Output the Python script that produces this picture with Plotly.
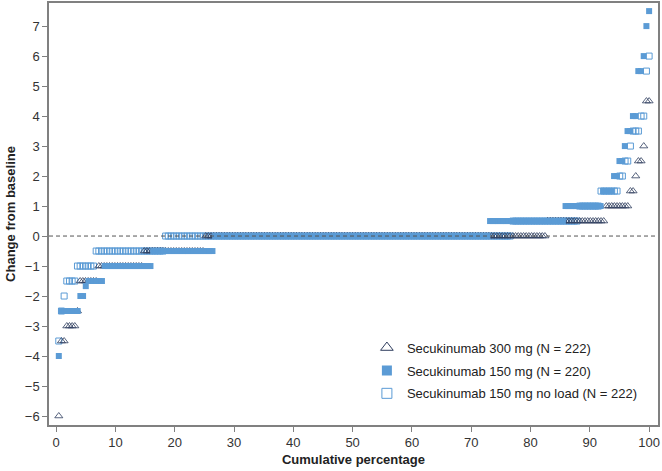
import plotly.graph_objects as go

# Secukinumab 300 mg (N = 222): change-from-baseline levels and number of patients per level
levels_300 = [-6, -3.5, -3, -2.5, -1.5, -1, -0.5, 0, 0.5, 1, 1.5, 2, 2.5, 3, 4.5]
counts_300 = [1, 2, 4, 1, 7, 17, 23, 128, 22, 9, 2, 1, 2, 1, 2]

# Secukinumab 150 mg (N = 220)
levels_150 = [-4, -2.5, -2, -1.67, -1.5, -1, -0.5, 0, 0.5, 1, 1.5, 2, 2.5, 3, 3.5, 4, 5.5, 6, 7, 7.5]
counts_150 = [1, 7, 2, 1, 6, 18, 23, 102, 28, 14, 4, 2, 2, 1, 2, 2, 2, 1, 1, 1]

# Secukinumab 150 mg no load (N = 222)
levels_nl = [-3.5, -2.5, -2, -1.5, -1, -0.5, 0, 0.5, 1, 1.5, 2, 2.5, 3, 3.5, 4, 5.5, 6]
counts_nl = [1, 1, 1, 4, 7, 26, 130, 25, 8, 7, 2, 2, 1, 3, 2, 1, 1]

names = ["Secukinumab 300 mg (N = 222)",
         "Secukinumab 150 mg (N = 220)",
         "Secukinumab 150 mg no load (N = 222)"]

x_ticks = list(range(0, 101, 10))
y_ticks = list(range(-6, 8))

BLUE = "#5b9bd5"
NAVY = "#2f3d5e"
FONT = "Arial, Liberation Sans, sans-serif"


def cumulative(levels, counts):
    ys = []
    for v, c in zip(levels, counts):
        ys += [v] * c
    n = len(ys)
    xs = [(i + 1) / n * 100 for i in range(n)]
    return xs, ys


fig = go.Figure()

x_nl, y_nl = cumulative(levels_nl, counts_nl)
x_300, y_300 = cumulative(levels_300, counts_300)
x_150, y_150 = cumulative(levels_150, counts_150)

fig.add_trace(go.Scatter(x=x_nl, y=y_nl, mode="markers", showlegend=False,
                         marker=dict(symbol="square-open", size=6, color=BLUE,
                                     line=dict(width=1, color=BLUE))))
fig.add_trace(go.Scatter(x=x_300, y=y_300, mode="markers", showlegend=False,
                         marker=dict(symbol="triangle-up-open", size=7, color=NAVY,
                                     line=dict(width=0.8, color=NAVY))))
fig.add_trace(go.Scatter(x=x_150, y=y_150, mode="markers", showlegend=False,
                         marker=dict(symbol="square", size=6, color=BLUE,
                                     line=dict(width=0))))

# legend entries
legend_styles = [
    dict(symbol="triangle-up-open", size=11, color=NAVY, line=dict(width=1, color=NAVY)),
    dict(symbol="square", size=10, color=BLUE, line=dict(width=0)),
    dict(symbol="square-open", size=10, color=BLUE, line=dict(width=1, color=BLUE)),
]
for i, (nm, mk) in enumerate(zip(names, legend_styles)):
    fig.add_trace(go.Scatter(x=[None], y=[None], mode="markers", name=nm,
                             legendgroup=f"g{i}", marker=mk))

fig.add_hline(y=0, line=dict(color="#555555", width=1, dash="4px,3px"))

axis_common = dict(showline=True, linecolor="#808080", linewidth=1.5, mirror=True,
                   ticks="outside", ticklen=5, tickcolor="#808080", tickwidth=1,
                   showgrid=False, zeroline=False, automargin=False,
                   tickfont=dict(family=FONT, size=13, color="#333333"))

fig.update_layout(
    width=662, height=471,
    margin=dict(l=49, r=4, t=3, b=46),
    plot_bgcolor="white", paper_bgcolor="white",
    font=dict(family=FONT, size=13, color="#222222"),
    xaxis=dict(range=[-1.2, 101.5], tickvals=x_ticks,
               title=dict(text="<b>Cumulative percentage</b>", standoff=6,
                          font=dict(family=FONT, size=13, color="#222222")),
               **axis_common),
    yaxis=dict(range=[-6.3, 7.77], tickvals=y_ticks,
               tickformat="d",
               title=dict(text="<b>Change from baseline</b>", standoff=6,
                          font=dict(family=FONT, size=13, color="#222222")),
               **axis_common),
    legend=dict(x=0.522, y=0.219, xanchor="left", yanchor="top",
                bgcolor="rgba(0,0,0,0)", tracegroupgap=3,
                font=dict(family=FONT, size=13, color="#222222")),
)

fig.write_html("out.html", config={"displayModeBar": False},
               post_script="document.body.style.margin='0';document.body.style.overflow='hidden';")
